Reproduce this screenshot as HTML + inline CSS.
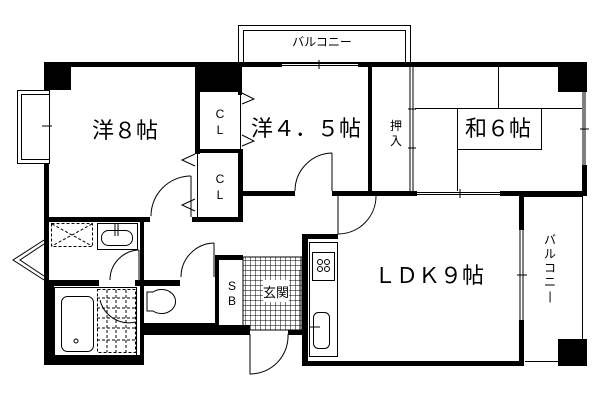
<!DOCTYPE html>
<html><head><meta charset="utf-8"><style>
html,body{margin:0;padding:0;background:#fff;width:600px;height:400px;overflow:hidden}
text{font-family:"Liberation Sans","Noto Sans CJK JP",sans-serif;fill:#000}
</style></head><body>
<svg width="600" height="400" viewBox="0 0 600 400" xmlns="http://www.w3.org/2000/svg">
<defs>
<pattern id="tile" width="5" height="5" patternUnits="userSpaceOnUse">
<path d="M0 0H5M0 0V5" stroke="#000" stroke-width="1" fill="none"/>
</pattern>
</defs>
<g fill="none" stroke="#000" stroke-width="1">
<rect x="238.5" y="25.5" width="172" height="37"/>
<rect x="243.5" y="30.5" width="162" height="32"/>
<rect x="17.5" y="90.5" width="32" height="73"/>
<rect x="21.5" y="94.5" width="28" height="65"/>
<line x1="42" y1="126" x2="52" y2="126"/>
<line x1="282" y1="63.5" x2="358" y2="63.5"/><line x1="282" y1="65.5" x2="358" y2="65.5"/>
<line x1="319" y1="60" x2="319" y2="69"/>
<line x1="410" y1="67" x2="410" y2="191"/><line x1="413" y1="67" x2="413" y2="191"/>
<line x1="408" y1="109" x2="416" y2="109"/><line x1="408" y1="148" x2="416" y2="148"/>
<line x1="417" y1="192.5" x2="500" y2="192.5"/><line x1="417" y1="194.5" x2="500" y2="194.5"/>
<line x1="460" y1="189" x2="460" y2="198"/>
<line x1="583" y1="92" x2="583" y2="165"/><line x1="585" y1="92" x2="585" y2="165"/>
<line x1="580" y1="129" x2="589" y2="129"/>
<line x1="520" y1="230" x2="520" y2="320"/><line x1="523" y1="230" x2="523" y2="320"/>
<line x1="517" y1="275" x2="527" y2="275"/>
<line x1="415" y1="108.5" x2="582" y2="108.5"/>
<line x1="498.5" y1="67" x2="498.5" y2="108"/>
<rect x="457.5" y="108.5" width="84" height="41"/>
<line x1="457.5" y1="149" x2="457.5" y2="191"/>
<line x1="524" y1="196.5" x2="582" y2="196.5"/>
<line x1="582.5" y1="196" x2="582.5" y2="339"/>
<line x1="525" y1="361.5" x2="558" y2="361.5"/>
<path d="M242 93 L254 99 L242 104"/><path d="M242 135 L254 141 L242 146"/>
<path d="M195 154 L182 160 L195 166"/><path d="M195 199 L182 205 L195 211"/>
<line x1="197.5" y1="153" x2="197.5" y2="217"/>
<line x1="240.5" y1="92" x2="240.5" y2="149"/>
<path d="M191 176 A40 40 0 0 0 151 216"/><line x1="191" y1="176" x2="191" y2="217"/>
<path d="M332 153 A38 38 0 0 0 295 191"/><line x1="332" y1="153" x2="332" y2="191"/>
<path d="M338 196 L338 234 A38 38 0 0 0 376 196"/>
<path d="M139 250 A30 30 0 0 0 110 280"/><line x1="139" y1="250" x2="139" y2="281"/>
<path d="M214 243 A34 34 0 0 0 181 277"/><line x1="214" y1="243" x2="214" y2="277"/>
<path d="M250 334 L250 374 A38 38 0 0 0 288 334"/>
<rect x="51.5" y="223.5" width="41" height="23" stroke-dasharray="3,2"/>
<path d="M52 224 L92 246 M92 224 L52 246" stroke-dasharray="3,2"/>
<rect x="97.5" y="223.5" width="40" height="26"/>
<rect x="101.5" y="230.5" width="31" height="15" rx="7"/>
<line x1="115" y1="224" x2="115" y2="236"/><line x1="118" y1="224" x2="118" y2="236"/>
<path d="M44 240 L13 260 L44 280 M44 244 L20 260 L44 276"/>
<rect x="54.5" y="287.5" width="82" height="68"/>
<rect x="61.5" y="296.5" width="32" height="55" rx="6"/>
<circle cx="76" cy="341" r="2"/>
<rect x="97.5" y="289.5" width="38" height="63" stroke-dasharray="3,2"/>
<path d="M107 290V352M116 290V352M126 290V352M97 298H136M97 308H136M97 318H136M97 328H136M97 340H136" stroke-dasharray="3,2"/>
<path d="M100 300 A30 30 0 0 0 136 322"/>
<path d="M147 292 H153 A14 12 0 1 1 153 311 H147 Z"/>
<rect x="309.5" y="242.5" width="28" height="114"/>
<rect x="312.5" y="252.5" width="22" height="28"/>
<rect x="313.5" y="312.5" width="16" height="36" rx="5"/>
<line x1="309" y1="327" x2="320" y2="327"/>
<line x1="300" y1="270" x2="300" y2="330"/>
</g>
<rect x="243" y="257" width="59" height="73" fill="url(#tile)" stroke="#000"/>
<rect x="263" y="280" width="26" height="22" fill="#fff"/>
<g fill="#000">
<rect x="44" y="62" width="238" height="5"/>
<rect x="358" y="62" width="229" height="5"/>
<rect x="44" y="62" width="27" height="28"/>
<rect x="44" y="62" width="5" height="28"/><rect x="44" y="163" width="5" height="122"/>
<rect x="195" y="62" width="47" height="30"/>
<rect x="195" y="62" width="5" height="92"/>
<rect x="195" y="149" width="47" height="4"/>
<rect x="238" y="149" width="5" height="72"/>
<rect x="192" y="217" width="51" height="5"/>
<rect x="44" y="217" width="106" height="5"/>
<rect x="242" y="191" width="53" height="5"/>
<rect x="238" y="67" width="4" height="28"/>
<rect x="368" y="67" width="4" height="129"/>
<rect x="332" y="191" width="85" height="5"/>
<rect x="500" y="191" width="87" height="5"/>
<rect x="558" y="62" width="29" height="30"/>
<rect x="582" y="165" width="5" height="30"/>
<rect x="519" y="196" width="5" height="34"/><rect x="519" y="320" width="5" height="46"/>
<rect x="558" y="339" width="29" height="27"/>
<rect x="302" y="234" width="36" height="5"/>
<rect x="302" y="234" width="6" height="132"/>
<rect x="302" y="361" width="222" height="5"/>
<rect x="140" y="222" width="4" height="143"/>
<rect x="44" y="280" width="55" height="6"/><rect x="135" y="280" width="45" height="6"/>
<rect x="44" y="280" width="10" height="85"/>
<rect x="44" y="355" width="100" height="10"/>
<rect x="144" y="323" width="74" height="12"/>
<rect x="215" y="255" width="28" height="5"/>
<rect x="215" y="255" width="4" height="80"/>
<rect x="215" y="325" width="28" height="10"/>
<rect x="238" y="325" width="12" height="10"/><rect x="288" y="330" width="20" height="5"/>
</g>
<text x="125" y="138" font-size="22" text-anchor="middle">洋８帖</text>
<text x="306" y="136" font-size="22" text-anchor="middle">洋４．５帖</text>
<text x="498" y="136" font-size="22" text-anchor="middle">和６帖</text>
<text x="429" y="283" font-size="22" text-anchor="middle">ＬＤＫ９帖</text>
<text x="322" y="46" font-size="12" text-anchor="middle">バルコニー</text>
<text x="220" y="118" font-size="12" text-anchor="middle">C</text>
<text x="220" y="134" font-size="12" text-anchor="middle">L</text>
<text x="220" y="183" font-size="12" text-anchor="middle">C</text>
<text x="220" y="199" font-size="12" text-anchor="middle">L</text>
<text x="232" y="290" font-size="12" text-anchor="middle">S</text>
<text x="232" y="305" font-size="12" text-anchor="middle">B</text>
<text x="276" y="297" font-size="13" text-anchor="middle">玄関</text>
<text x="396" y="130" font-size="12" text-anchor="middle">押</text>
<text x="396" y="145" font-size="12" text-anchor="middle">入</text>
<g font-size="12" text-anchor="middle">
<text x="550" y="244">バ</text><text x="550" y="258">ル</text><text x="550" y="272">コ</text><text x="550" y="286">ニ</text><text x="550" y="300">|</text>
</g>
<g fill="none" stroke="#000" stroke-width="1">
<circle cx="320" cy="262" r="2.5"/><circle cx="327" cy="262" r="2.5"/><circle cx="320" cy="269" r="2.5"/><circle cx="327" cy="269" r="2.5"/>
</g>
</svg>
</body></html>
